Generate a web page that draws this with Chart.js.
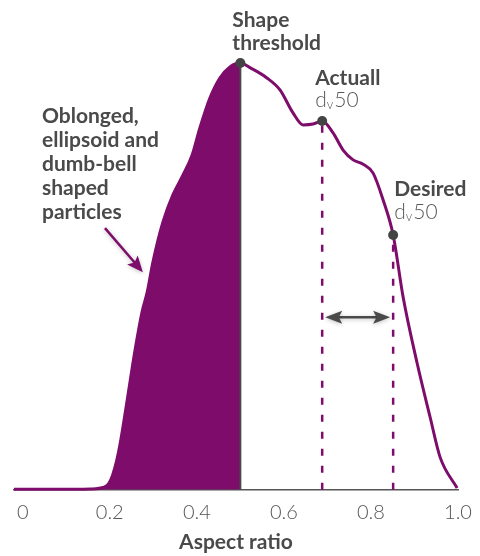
<!DOCTYPE html>
<html>
<head>
<meta charset="utf-8">
<script src="https://cdn.jsdelivr.net/npm/chart.js@4.4.1/dist/chart.umd.min.js"></script>
<style>
html, body { margin: 0; padding: 0; background: #fff; }
#wrap { width: 480px; height: 556px; }
</style>
</head>
<body>
<div id="wrap"><canvas id="myChart"></canvas></div>
<script>
'use strict'
// distribution curve (aspect ratio vs relative frequency, peak = 100)
const ratioX = [-0.02, 0.086, 0.155, 0.187, 0.198, 0.207, 0.216, 0.224, 0.240, 0.258,
    0.274, 0.286, 0.299, 0.322, 0.345, 0.368, 0.389, 0.407, 0.430, 0.453,
    0.476, 0.5, 0.524, 0.561, 0.591, 0.621, 0.644, 0.667, 0.688, 0.713,
    0.736, 0.759, 0.782, 0.805, 0.828, 0.851, 0.874, 0.906, 0.936, 0.959, 0.998];
const shareY = [0.1, 0.1, 0.2, 0.6, 1.5, 3.6, 6.9, 10.9, 21, 32.7,
    41.6, 46.3, 53.3, 62.7, 69.1, 73.7, 78.4, 84.8, 91.8, 96.5,
    99.1, 100, 98.8, 96.5, 93.7, 88.3, 85.5, 85.7, 86.4, 83.6,
    79.6, 77.3, 76.3, 74.2, 67.9, 59.7, 45.1, 29.7, 17.0, 7.6, 0.4];

const tickValues = [0, 0.2, 0.4, 0.6, 0.8, 1.0];
const tickLabels = ['0', '0.2', '0.4', '0.6', '0.8', '1.0'];

const thresholdX = 0.5;
const actualX = 0.688;
const desiredX = 0.851;
const gapArrowY = 40.4;

const purple = '#7d0c6b';
const darkGray = '#4a4a4a';

function yAt(x) {
    return shareY[ratioX.indexOf(x)];
}

let curvePoints = ratioX.map((x, i) => ({ x: x, y: shareY[i] }));
let markers = [thresholdX, actualX, desiredX].map(x => ({ x: x, y: yAt(x) }));

// text and arrows drawn on top of the chart
const notes = {
    id: 'notes',
    afterDatasetsDraw(chart) {
        const ctx = chart.ctx;
        const xs = chart.scales.x;
        const ys = chart.scales.y;
        const px = v => xs.getPixelForValue(v);
        const py = v => ys.getPixelForValue(v);

        function head(x, y, ang, len, half, color) {
            ctx.save();
            ctx.translate(x, y);
            ctx.rotate(ang);
            ctx.beginPath();
            ctx.moveTo(0, 0);
            ctx.lineTo(-len, -half);
            ctx.lineTo(-len * 0.8, 0);
            ctx.lineTo(-len, half);
            ctx.closePath();
            ctx.fillStyle = color;
            ctx.fill();
            ctx.restore();
        }

        ctx.save();
        ctx.fillStyle = darkGray;
        ctx.textAlign = 'left';
        ctx.textBaseline = 'middle';

        const bold = 'bold 21px Lato';
        function dv50(x, y) {
            ctx.fillStyle = '#5a5a5a';
            ctx.font = '300 21px Lato';
            ctx.fillText('d', x, y);
            let w = ctx.measureText('d').width;
            ctx.font = '300 13px Lato';
            ctx.fillText('v', x + w, y + 5);
            let w2 = ctx.measureText('v').width;
            ctx.font = '300 21px Lato';
            ctx.fillText('50', x + w + w2 + 1, y);
            ctx.fillStyle = darkGray;
        }

        // shape threshold
        let tx = px(thresholdX), ty = py(yAt(thresholdX));
        ctx.font = bold;
        ctx.fillText('Shape', tx - 8, ty - 43);
        ctx.fillText('threshold', tx - 8, ty - 20);

        // actual
        let ax = px(actualX), ay = py(yAt(actualX));
        ctx.fillText('Actuall', ax - 7, ay - 43);
        dv50(ax - 7, ay - 21);

        // desired
        let dx = px(desiredX), dy = py(yAt(desiredX));
        ctx.font = bold;
        ctx.fillText('Desired', dx + 1, dy - 46);
        dv50(dx + 1, dy - 23);

        // left block of text
        ctx.font = bold;
        const lines = ['Oblonged,', 'ellipsoid and', 'dumb-bell', 'shaped', 'particles'];
        const left = chart.chartArea.left + 28;
        lines.forEach((t, i) => ctx.fillText(t, left, 116 + i * 24));

        // purple pointer arrow
        const sx = px(0.189), sy = py(61.3), ex = px(0.276), ey = py(51.0);
        const ang = Math.atan2(ey - sy, ex - sx);
        ctx.shadowColor = 'rgba(0,0,0,0.25)';
        ctx.shadowBlur = 4;
        ctx.shadowOffsetY = 1;
        ctx.strokeStyle = purple;
        ctx.lineWidth = 2.5;
        ctx.beginPath();
        ctx.moveTo(sx, sy);
        ctx.lineTo(ex - Math.cos(ang) * 12, ey - Math.sin(ang) * 12);
        ctx.stroke();
        head(ex, ey, ang, 16, 7, purple);

        // double arrow between actual and desired
        const gy = py(gapArrowY);
        const g1 = ax + 3, g2 = dx - 3;
        ctx.strokeStyle = darkGray;
        ctx.lineWidth = 2.5;
        ctx.beginPath();
        ctx.moveTo(g1 + 12, gy);
        ctx.lineTo(g2 - 12, gy);
        ctx.stroke();
        head(g2, gy, 0, 17, 6.5, darkGray);
        head(g1, gy, Math.PI, 17, 6.5, darkGray);
        ctx.restore();
    }
};

const ctx = document.getElementById('myChart');
const chart = new Chart(ctx, {
    type: 'line',
    data: {
        datasets: [
            {
                type: 'scatter',
                data: markers,
                pointRadius: 5,
                pointHoverRadius: 5,
                pointBackgroundColor: '#444',
                pointBorderWidth: 0,
                showLine: false,
                clip: false
            },
            {
                data: [{ x: thresholdX, y: 0 }, { x: thresholdX, y: yAt(thresholdX) }],
                borderColor: darkGray,
                borderWidth: 2,
                pointRadius: 0,
                clip: false
            },
            {
                data: [{ x: actualX, y: 0 }, { x: actualX, y: yAt(actualX) }],
                borderColor: purple,
                borderWidth: 2.5,
                borderDash: [7, 10],
                pointRadius: 0,
                clip: false
            },
            {
                data: [{ x: desiredX, y: 0 }, { x: desiredX, y: yAt(desiredX) }],
                borderColor: purple,
                borderWidth: 2.5,
                borderDash: [7, 10],
                pointRadius: 0,
                clip: false
            },
            {
                data: curvePoints,
                borderColor: purple,
                borderWidth: 3,
                backgroundColor: purple,
                fill: 'origin',
                cubicInterpolationMode: 'monotone',
                pointRadius: 0,
                clip: false,
                segment: {
                    backgroundColor: c => c.p0.parsed.x >= thresholdX - 1e-9 ? 'rgba(0,0,0,0)' : undefined
                }
            }
        ]
    },
    options: {
        responsive: true,
        maintainAspectRatio: false,
        animation: false,
        layout: { padding: { left: 14, right: 22, top: 63, bottom: 1 } },
        plugins: {
            legend: { display: false },
            tooltip: { enabled: false }
        },
        scales: {
            x: {
                type: 'linear',
                min: -0.02,
                max: 1.0,
                afterBuildTicks: s => { s.ticks = tickValues.map(v => ({ value: v })); },
                grid: { display: false, drawTicks: true, tickLength: 11 },
                border: { display: true, color: '#555', width: 1.5 },
                ticks: {
                    padding: 0,
                    color: '#555',
                    font: { family: 'Lato', size: 20, weight: '300' },
                    callback: v => tickLabels[tickValues.indexOf(v)]
                },
                title: {
                    display: true,
                    text: 'Aspect ratio',
                    color: darkGray,
                    padding: { top: 5, bottom: 0 },
                    font: { family: 'Lato', size: 21, weight: 'bold' }
                }
            },
            y: {
                display: false,
                min: 0,
                max: 100
            }
        }
    },
    plugins: [notes]
});
</script>
</body>
</html>
